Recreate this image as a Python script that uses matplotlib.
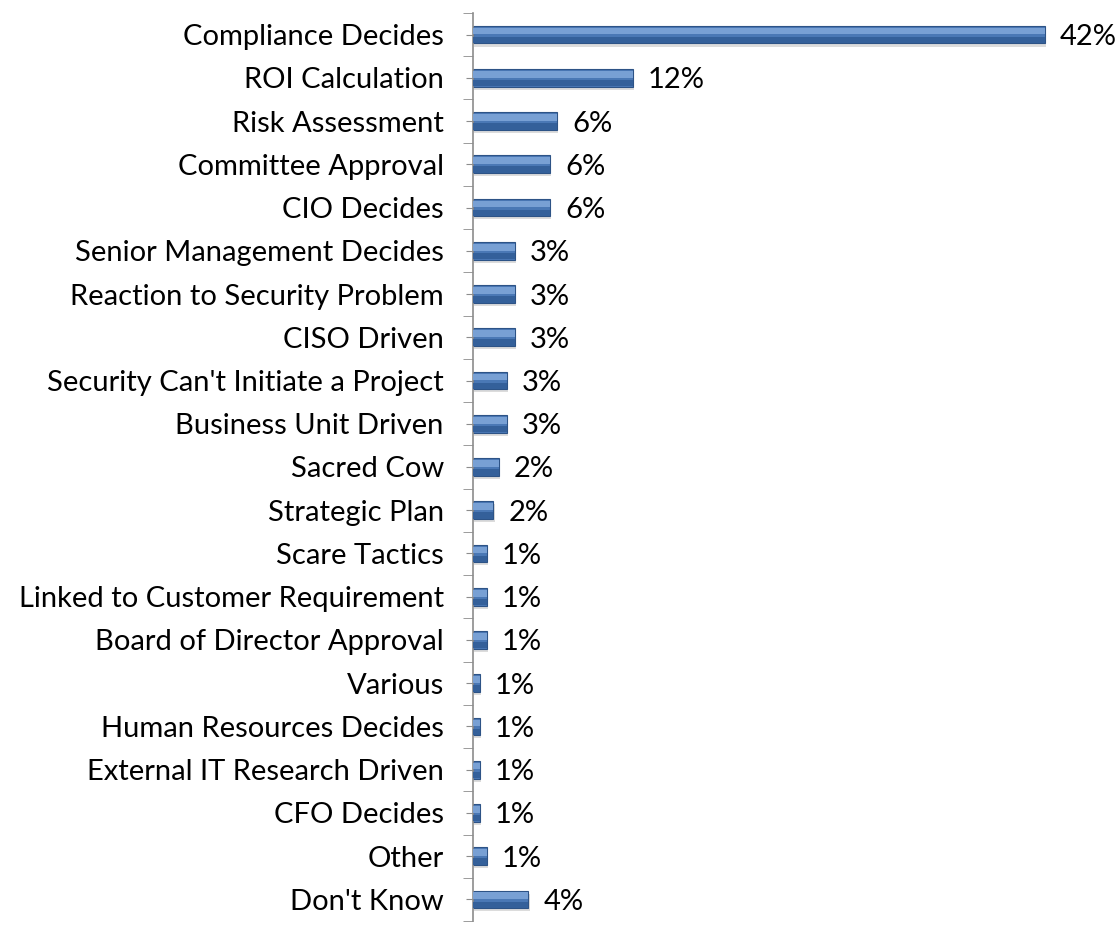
import matplotlib.pyplot as plt
import numpy as np

categories = ["Compliance Decides", "ROI Calculation", "Risk Assessment",
              "Committee Approval", "CIO Decides", "Senior Management Decides",
              "Reaction to Security Problem", "CISO Driven",
              "Security Can't Initiate a Project", "Business Unit Driven",
              "Sacred Cow", "Strategic Plan", "Scare Tactics",
              "Linked to Customer Requirement", "Board of Director Approval",
              "Various", "Human Resources Decides", "External IT Research Driven",
              "CFO Decides", "Other", "Don't Know"]
values = [42.3, 11.8, 6.2, 5.7, 5.7, 3.1, 3.1, 3.1, 2.5, 2.5, 1.9, 1.5,
          1.0, 1.0, 1.0, 0.5, 0.5, 0.5, 0.5, 1.0, 4.1]
value_labels = ["42%", "12%", "6%", "6%", "6%", "3%", "3%", "3%", "3%", "3%",
                "2%", "2%", "1%", "1%", "1%", "1%", "1%", "1%", "1%", "1%", "4%"]

plt.rcParams['font.family'] = ['Lato', 'DejaVu Sans']

fig = plt.figure(figsize=(11.15, 9.27), dpi=100)
ax = fig.add_axes([473 / 1115, 6 / 927, 1 - 473 / 1115 - 0.006, 1 - 13 / 927 - 6 / 927])

y = np.arange(len(categories))
h = 0.41

# soft shadow, base bar, darker lower part, light upper highlight
ax.barh(y + 0.07, values, height=h, left=0.1, color='#dcdcdc', zorder=1)
ax.barh(y, values, height=h, color='#4a78b5', edgecolor='#2d5386', linewidth=0.8, zorder=2)
ax.barh(y + h * 0.3, values, height=h * 0.36, color='#34609a', zorder=3)
ax.barh(y - h * 0.2, values, height=h * 0.38, color='#78a0d4', zorder=3)

for yi, v, lab in zip(y, values, value_labels):
    ax.annotate(lab, (v, yi), xytext=(11, 0), textcoords='offset points',
                ha='left', va='center_baseline', fontsize=21, color='black')

ax.set_xlim(0, 47)
ax.set_ylim(20.5, -0.5)
ax.set_yticks(y)
ax.set_yticklabels(categories, fontsize=21)
ax.set_yticks(np.arange(-0.5, 21, 1), minor=True)
ax.tick_params(axis='y', which='major', length=5, color='#8c8c8c', pad=16)
ax.tick_params(axis='y', which='minor', length=7.5, color='#8c8c8c')
ax.set_xticks([])
for s in ['top', 'right', 'bottom']:
    ax.spines[s].set_visible(False)
ax.spines['left'].set_color('#8c8c8c')
ax.spines['left'].set_linewidth(1.2)

fig.savefig('out.png', dpi=100)
